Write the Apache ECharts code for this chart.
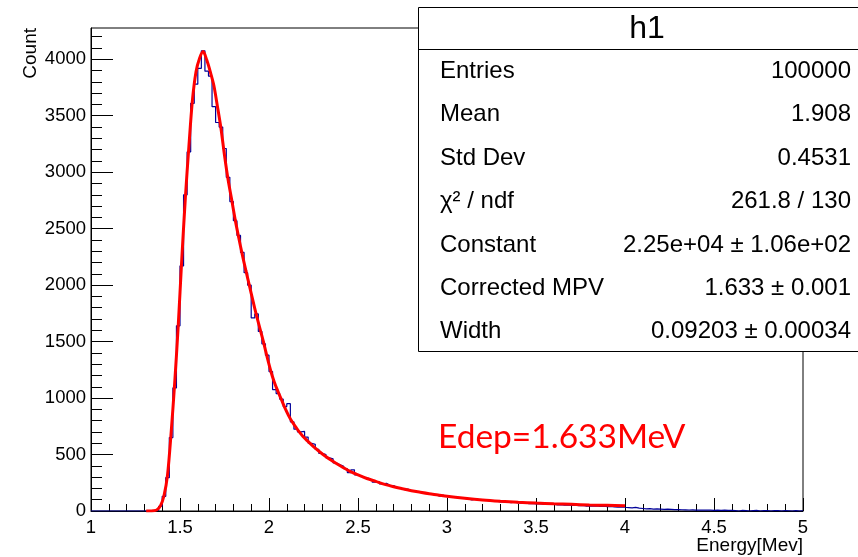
<!DOCTYPE html>
<html><head><meta charset="utf-8">
<script src="https://cdn.jsdelivr.net/npm/echarts@6/dist/echarts.min.js"></script>
<style>html,body{margin:0;padding:0;background:#fff}#c{width:858px;height:557px}</style>
</head><body><div id="c"></div>
<script>
// Histogram binning (200 bins of 0.02 from 1.0 to 5.0)
const binStart = 1.0;
const binWidth = 0.02;
const binCounts = [
  0,0,0,0,0,0,0,0,0,0, 0,0,0,0,0,0,0,0,
  5,42,130,295,650,1090,1640,2170,2800,3180,3610,3780,3920,4075,3895,3850,3580,3440,3400,3210,2955,2740,
  2570,2440,2290,2110,2000,1710,1745,1590,1480,1380,1235,1075,1040,990,925,950,790,725,700,705,
  655,600,590,545,510,500,470,462,425,410,395,375,340,365,320,310,295,290,275,255,
  260,240,245,228,225,208,205,190,195,180,178,168,165,158,152,146,143,132,140,128,
  125,127,118,114,112,108,98,104,100,93,95,90,86,88,80,83,78,75,79,72,
  70,74,66,68,63,66,60,62,58,60,55,57,52,55,50,52,47,50,44,46,
  43,45,40,42,38,40,36,34,37,33,
  30,27,32,25,22,19,21,16,18,17,14,16,15,12,13,11,10,9,10,8,
  9,8,7,8,6,7,6,7,5,6,4,0,5,3,0,4,5,0,3,4,
  0,3,4,0,3,2,0,3,0,2
];
// Landau fit curve
const fitX = [1.31,1.33,1.35,1.37,1.39,1.41,1.43,1.45,1.47,1.49,1.51,1.53,1.55,1.57,1.59,1.61,1.63,1.65,1.67,1.69,
  1.71,1.73,1.75,1.77,1.79,1.81,1.83,1.85,1.87,1.89,1.91,1.93,1.95,1.97,1.99,2.01,2.03,2.05,2.07,2.09,
  2.11,2.13,2.15,2.17,2.19,2.21,2.25,2.30,2.35,2.40,2.45,2.50,2.55,2.60,2.65,2.70,2.75,2.80,2.85,2.90,
  2.95,3.00,3.10,3.20,3.30,3.40,3.50,3.60,3.70,3.80,3.90,4.00];
const fitY = [0,0,2,10,45,135,320,690,1130,1640,2230,2770,3230,3640,3890,4010,4068,3995,3890,3770,
  3585,3390,3150,2935,2760,2580,2420,2270,2130,1995,1860,1730,1610,1490,1360,1240,1140,1060,985,910,
  845,790,745,700,662,630,570,505,450,400,355,320,288,262,236,215,197,180,166,153,
  142,130,112,97,86,77,70,64,59,54,50,46];

const xTicks = [1,1.5,2,2.5,3,3.5,4,4.5,5];
const yTicks = [0,500,1000,1500,2000,2500,3000,3500,4000];
const yMinorTicks = [100,200,300,400,600,700,800,900,1100,1200,1300,1400,1600,1700,1800,1900,
  2100,2200,2300,2400,2600,2700,2800,2900,3100,3200,3300,3400,3600,3700,3800,3900,4100,4200];

const statTitle = 'h1';
const statLabels = ['Entries','Mean','Std Dev','\u03C7\u00B2 / ndf','Constant','Corrected MPV','Width'];
const statValues = ['100000','1.908','0.4531','261.8 / 130','2.25e+04 \u00B1 1.06e+02','1.633 \u00B1 0.001','0.09203 \u00B1 0.00034'];
const xTitle = 'Energy[Mev]';
const yTitle = 'Count';
const annotation = 'Edep=1.633MeV';

const histData = binCounts.map((v, i) => [+(binStart + i * binWidth).toFixed(2), v]);
histData.push([+(binStart + binCounts.length * binWidth).toFixed(2), binCounts[binCounts.length - 1]]);
const fitData = fitX.map((x, i) => [x, fitY[i]]);

const FONT = '"Liberation Sans", Arial, Helvetica, sans-serif';
const chart = echarts.init(document.getElementById('c'), null, {renderer: 'canvas'});

const graphics = [
  {type:'rect', z:100, shape:{x:418.5, y:7.5, width:460, height:344}, style:{fill:'#fff', stroke:'#000', lineWidth:1}},
  {type:'line', z:101, shape:{x1:418.5, y1:49.5, x2:870, y2:49.5}, style:{stroke:'#000', lineWidth:1}},
  {type:'text', z:102, style:{text:statTitle, x:647, y:29, font:'32px ' + FONT, fill:'#000', textAlign:'center', textVerticalAlign:'middle'}},
  {type:'text', z:102, rotation:Math.PI/2, x:31, y:28, style:{text:yTitle, x:0, y:0, font:'19px ' + FONT, fill:'#000', textAlign:'right', textVerticalAlign:'middle'}},
  {type:'text', z:102, style:{text:xTitle, x:803, y:546, font:'19px ' + FONT, fill:'#000', textAlign:'right', textVerticalAlign:'middle'}},
  {type:'text', z:102, style:{text:annotation, x:438, y:437, font:'33.5px Lato, "Open Sans", sans-serif', fill:'#ff0000', textAlign:'left', textVerticalAlign:'middle'}}
];
const rowY = [71, 114, 158, 201, 245, 288, 331];
statLabels.forEach((t, i) => {
  graphics.push({type:'text', z:102, style:{text:t, x:440, y:rowY[i], font:'24px ' + FONT, fill:'#000', textAlign:'left', textVerticalAlign:'middle'}});
  graphics.push({type:'text', z:102, style:{text:statValues[i], x:851, y:rowY[i], font:'24px ' + FONT, fill:'#000', textAlign:'right', textVerticalAlign:'middle'}});
});

chart.setOption({
  animation: false,
  backgroundColor: '#fff',
  grid: {left:91, top:28, right:55, bottom:46, show:true, borderColor:'#000', borderWidth:1, backgroundColor:'transparent', containLabel:false},
  xAxis: [{
    type:'value', min:1, max:5, interval:0.5, position:'bottom',
    axisLine:{show:true, lineStyle:{color:'#000', width:1}},
    axisTick:{show:true, inside:true, length:13, lineStyle:{color:'#000', width:1}},
    minorTick:{show:true, splitNumber:5, length:7, lineStyle:{color:'#000', width:1}},
    splitLine:{show:false}, minorSplitLine:{show:false},
    axisLabel:{color:'#000', fontSize:18.5, fontFamily:FONT, margin:7, formatter:v => String(v), showMinLabel:true, showMaxLabel:true, hideOverlap:false}
  }],
  yAxis: [{
    type:'value', min:0, max:4277, interval:500, position:'left',
    axisLine:{show:true, lineStyle:{color:'#000', width:1}},
    axisTick:{show:true, inside:true, length:22, customValues:yTicks, lineStyle:{color:'#000', width:1}},
    splitLine:{show:false},
    axisLabel:{color:'#000', fontSize:18.5, fontFamily:FONT, margin:5, customValues:yTicks, formatter:v => String(v)}
  },{
    type:'value', min:0, max:4277, interval:100, position:'left', offset:0,
    axisLine:{show:false},
    axisTick:{show:true, inside:true, length:11, customValues:yMinorTicks, lineStyle:{color:'#000', width:1}},
    splitLine:{show:false},
    axisLabel:{show:false}
  }],
  series: [{
    type:'line', name:'h1', data:histData, step:'end', xAxisIndex:0, yAxisIndex:0,
    showSymbol:false, symbol:'none', z:2,
    lineStyle:{color:'#000099', width:1.2}
  },{
    type:'line', name:'landau', data:fitData, smooth:0.3, xAxisIndex:0, yAxisIndex:0,
    showSymbol:false, symbol:'none', z:3,
    lineStyle:{color:'#ff0000', width:3}
  }],
  graphic: graphics
});
</script></body></html>
